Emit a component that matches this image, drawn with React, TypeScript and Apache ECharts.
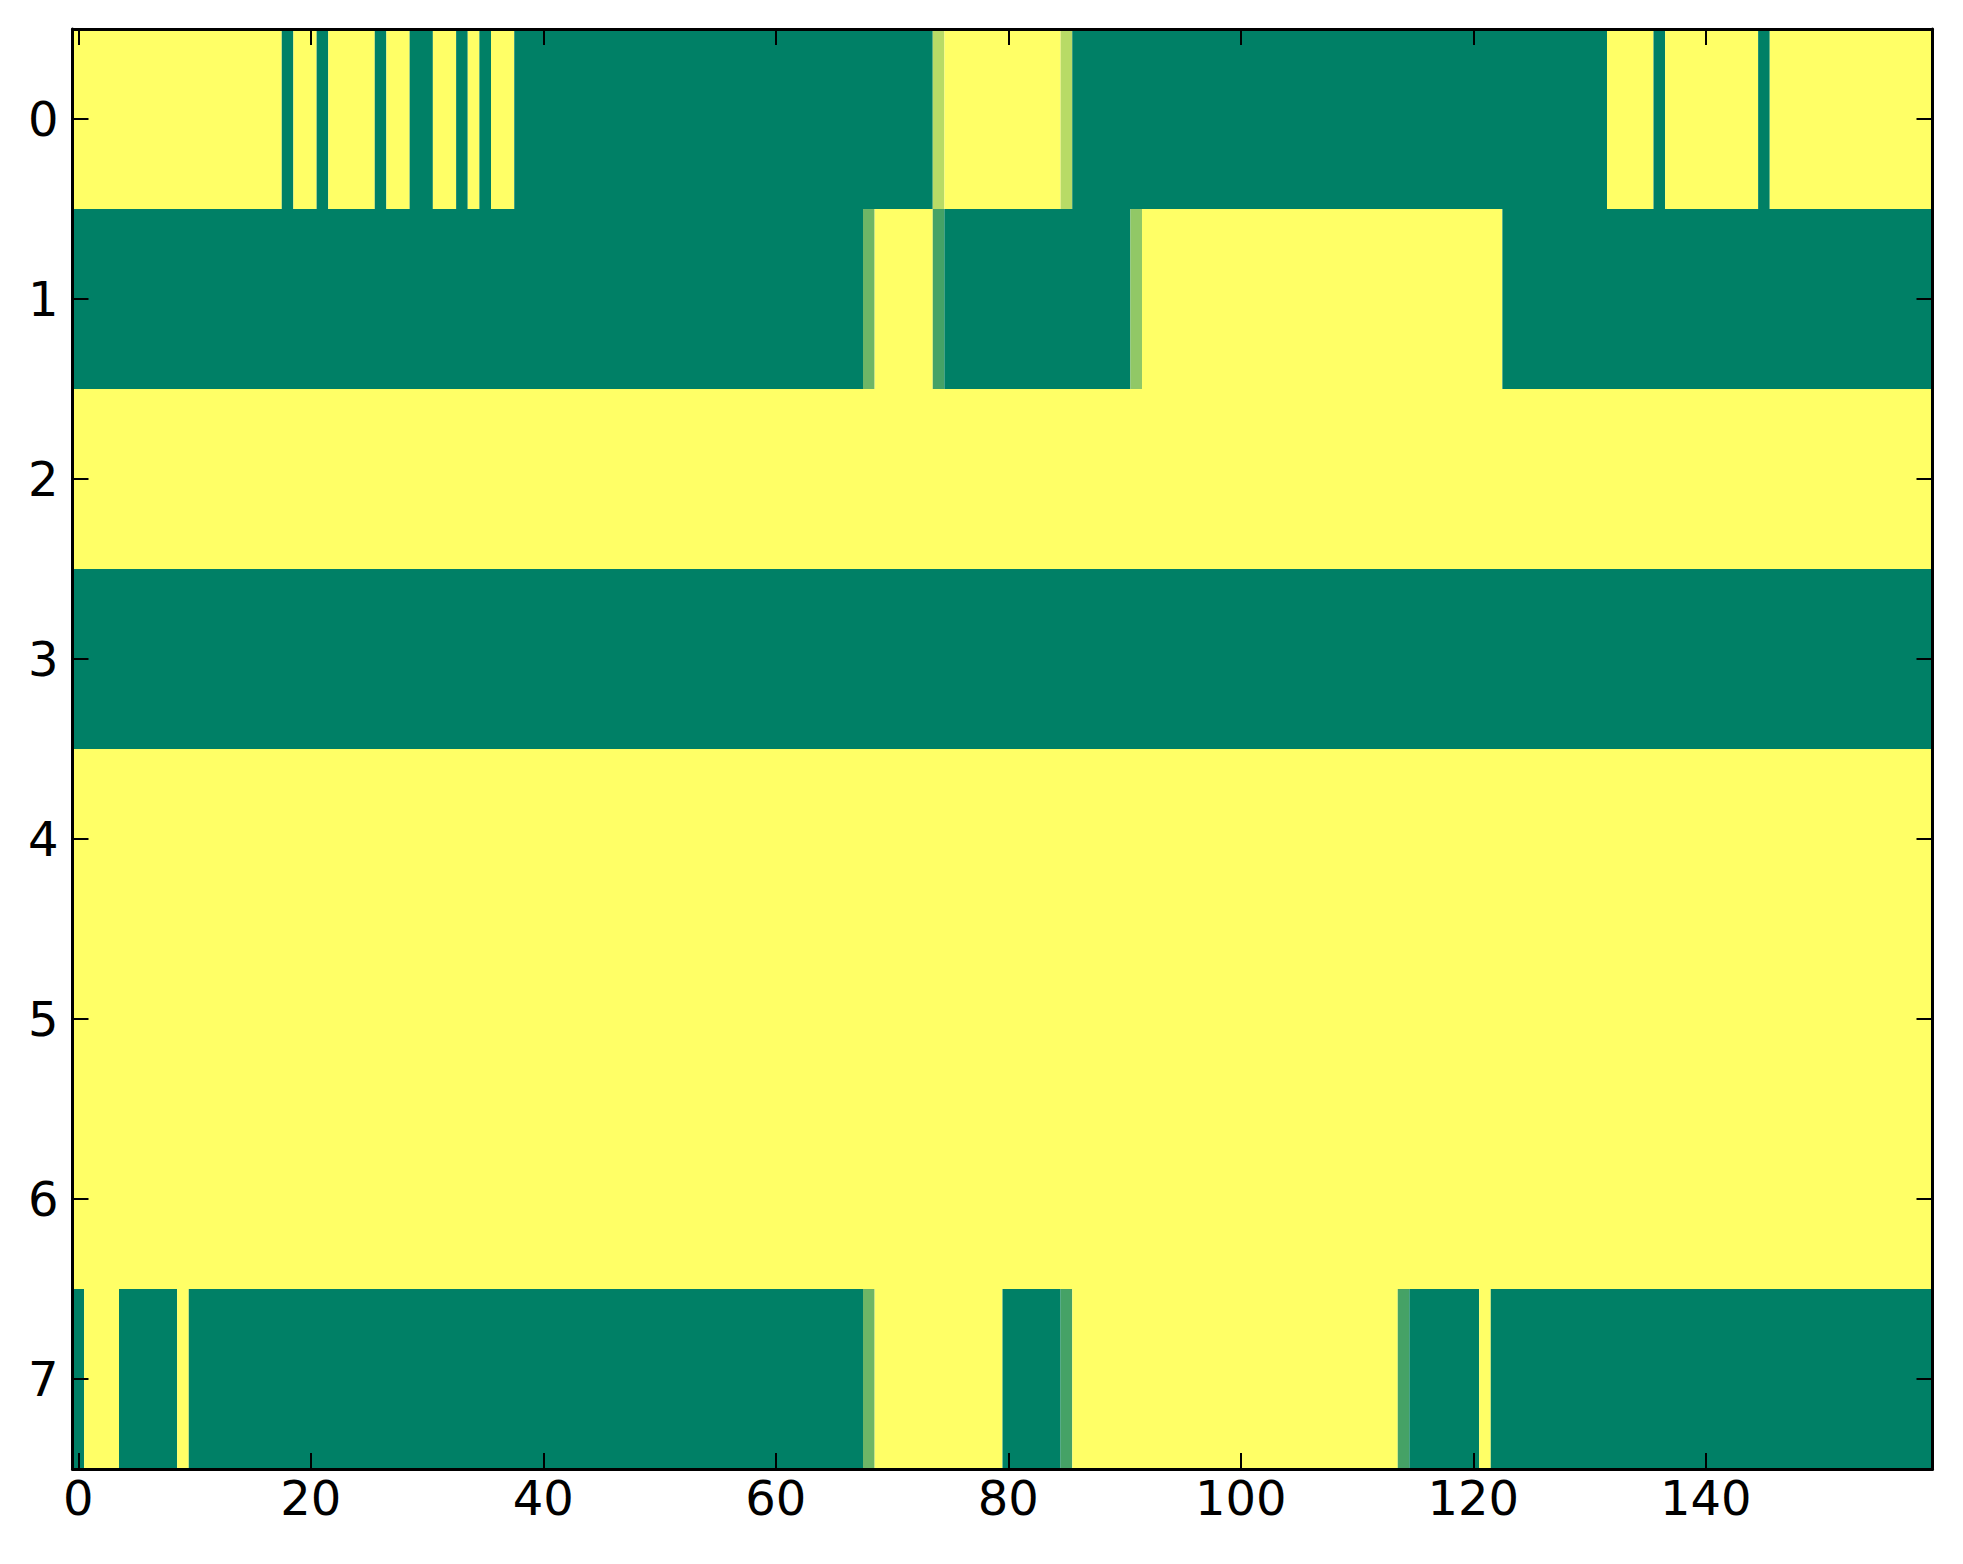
import React, { useEffect, useRef } from "react";
import * as echarts from "echarts";

// Each run: [firstColumn, lastColumn, value] (value 0..1 on the "summer" colormap)
const row0 = [
  [0, 17, 1], [18, 18, 0], [19, 20, 1], [21, 21, 0], [22, 25, 1], [26, 26, 0],
  [27, 28, 1], [29, 30, 0], [31, 32, 1], [33, 33, 0], [34, 34, 1], [35, 35, 0],
  [36, 37, 1], [38, 73, 0], [74, 74, 0.72], [75, 84, 1], [85, 85, 0.72],
  [86, 131, 0], [132, 135, 1], [136, 136, 0], [137, 144, 1], [145, 145, 0],
  [146, 159, 1],
];
const row1 = [
  [0, 67, 0], [68, 68, 0.43], [69, 73, 1], [74, 74, 0.27], [75, 90, 0],
  [91, 91, 0.57], [92, 122, 1], [123, 159, 0],
];
const row2 = [[0, 159, 1]];
const row3 = [[0, 159, 0]];
const row4 = [[0, 159, 1]];
const row5 = [[0, 159, 1]];
const row6 = [[0, 159, 1]];
const row7 = [
  [0, 0, 0], [1, 3, 1], [4, 8, 0], [9, 9, 1], [10, 67, 0], [68, 68, 0.43],
  [69, 79, 1], [80, 84, 0], [85, 85, 0.27], [86, 113, 1], [114, 114, 0.27],
  [115, 120, 0], [121, 121, 1], [122, 159, 0],
];
const rows = [row0, row1, row2, row3, row4, row5, row6, row7];

const xTicks = [0, 20, 40, 60, 80, 100, 120, 140];
const yTicks = [0, 1, 2, 3, 4, 5, 6, 7];
const nCols = 160;
const nRows = 8;

function summer(v: number): string {
  const r = Math.round(v * 255);
  const g = Math.round((0.5 + 0.5 * v) * 255);
  const b = Math.round(0.4 * 255);
  return `rgb(${r},${g},${b})`;
}

const FONT = "DejaVu Sans";

export default function App() {
  const ref = useRef<HTMLDivElement>(null);
  useEffect(() => {
    if (!ref.current) return;
    const chart = echarts.init(ref.current, null, { renderer: "svg" });
    const data: number[][] = [];
    rows.forEach((runs, r) => {
      runs.forEach(([s, e, v]) => data.push([s, e, r, v]));
    });
    const axisLine = { show: true, onZero: false, lineStyle: { color: "#000", width: 3 } };
    const tick = (vals: number[]) => ({
      show: true,
      inside: true,
      length: 16,
      customValues: vals,
      lineStyle: { color: "#000", width: 2 },
    });
    const xBase = {
      type: "value" as const,
      min: -0.5,
      max: nCols - 0.5,
      splitLine: { show: false },
      axisLine,
      z: 10,
    };
    const yBase = {
      type: "value" as const,
      min: -0.5,
      max: nRows - 0.5,
      inverse: true,
      splitLine: { show: false },
      axisLine,
      z: 10,
    };
    chart.setOption({
      animation: false,
      backgroundColor: "#fff",
      grid: { left: 72.5, right: 30.5, top: 29, bottom: 95, containLabel: false },
      xAxis: [
        {
          ...xBase,
          position: "bottom",
          axisTick: tick(xTicks),
          axisLabel: {
            show: true,
            customValues: xTicks,
            margin: 5,
            fontFamily: FONT,
            fontSize: 48,
            color: "#000",
          },
        },
        {
          ...xBase,
          position: "top",
          axisTick: tick(xTicks),
          axisLabel: { show: false },
        },
      ],
      yAxis: [
        {
          ...yBase,
          position: "left",
          axisTick: tick(yTicks),
          axisLabel: {
            show: true,
            customValues: yTicks,
            margin: 14,
            fontFamily: FONT,
            fontSize: 48,
            color: "#000",
          },
        },
        {
          ...yBase,
          position: "right",
          axisTick: tick(yTicks),
          axisLabel: { show: false },
        },
      ],
      series: [
        {
          type: "custom",
          xAxisIndex: 0,
          yAxisIndex: 0,
          clip: true,
          encode: { x: [0, 1], y: 2 },
          data,
          renderItem: (params: any, api: any) => {
            const s = api.value(0);
            const e = api.value(1);
            const r = api.value(2);
            const v = api.value(3);
            const p0 = api.coord([s - 0.5, r - 0.5]);
            const p1 = api.coord([e + 0.5, r + 0.5]);
            return {
              type: "rect",
              shape: {
                x: Math.min(p0[0], p1[0]),
                y: Math.min(p0[1], p1[1]),
                width: Math.abs(p1[0] - p0[0]),
                height: Math.abs(p1[1] - p0[1]),
              },
              style: { fill: summer(v), stroke: null },
            };
          },
        },
      ],
    });
    return () => chart.dispose();
  }, []);
  return (
    <div
      ref={ref}
      style={{ position: "fixed", left: 0, top: 0, width: 1963, height: 1564, background: "#fff" }}
    />
  );
}
